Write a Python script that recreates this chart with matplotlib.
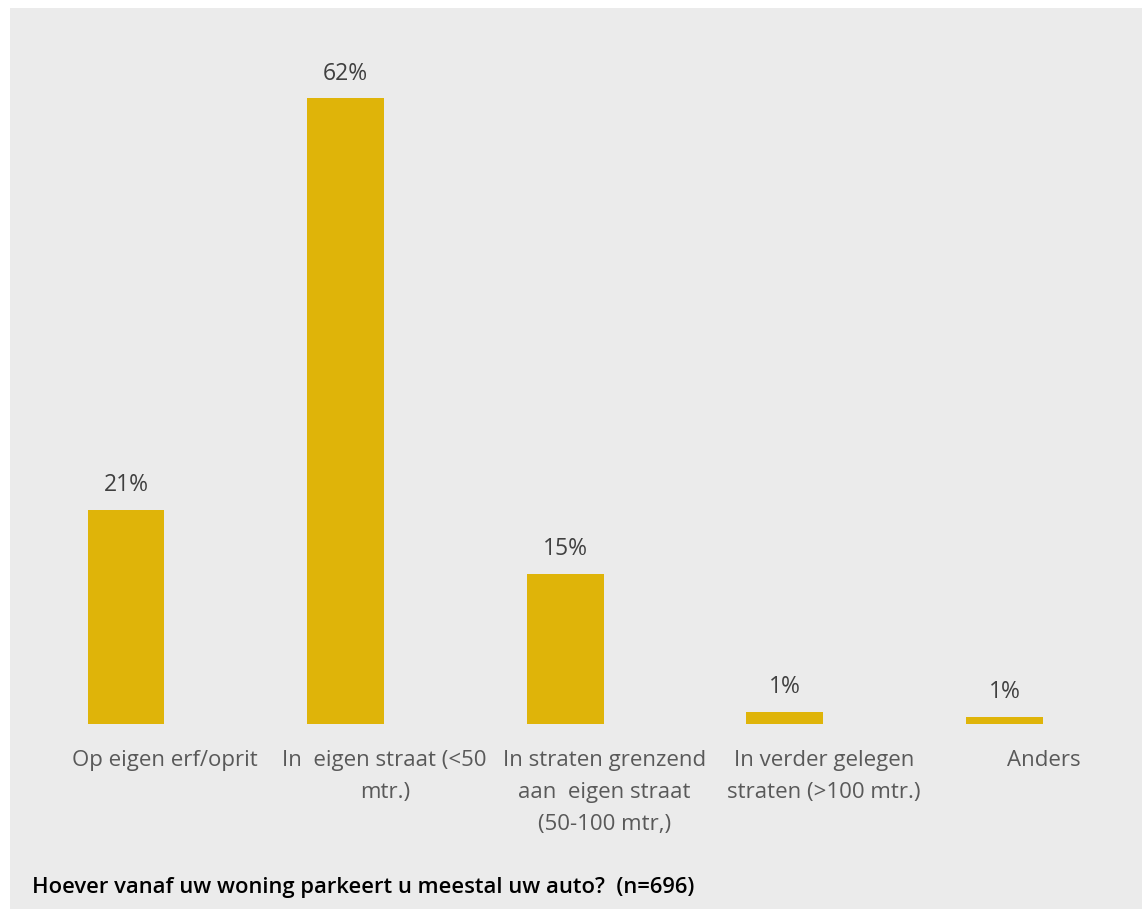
import matplotlib
matplotlib.use("Agg")
import matplotlib.pyplot as plt
from matplotlib.patches import Rectangle

categories = ["Op eigen erf/oprit",
              "In  eigen straat (<50\nmtr.)",
              "In straten grenzend\naan  eigen straat\n(50-100 mtr,)",
              "In verder gelegen\nstraten (>100 mtr.)",
              "Anders"]
values = [21.2, 62.0, 14.9, 1.2, 0.7]
value_labels = ["21%", "62%", "15%", "1%", "1%"]
title = "Hoever vanaf uw woning parkeert u meestal uw auto?  (n=696)"

W, H = 1142, 909
fig = plt.figure(figsize=(W / 100, H / 100), dpi=100)
fig.patch.set_facecolor("white")
fig.add_artist(Rectangle((10 / W, 0), 1 - 10 / W, 1 - 8 / H, transform=fig.transFigure,
                         facecolor="#ebebeb", edgecolor="none", zorder=0))

font = ["Open Sans", "DejaVu Sans"]
# axes: baseline at y=724 px, top at y=30
ax_bottom = (H - 724) / H
ax_top = (H - 30) / H
ax = fig.add_axes([16.25 / W, ax_bottom, (1114.25 - 16.25) / W, ax_top - ax_bottom])
ax.set_facecolor("none")
x = list(range(len(categories)))
ax.bar(x, values, width=0.35, color="#dfb409", zorder=2)
ax.set_xlim(-0.5, 4.5)
ax.set_ylim(0, 62 * (724 - 30) / (724 - 98))
for xi, v, lab in zip(x, values, value_labels):
    ax.annotate(lab, (xi, v), xytext=(0, 9), textcoords="offset points", ha="center",
                va="bottom", fontsize=16.5, color="#404040", family=font)
for s in ax.spines.values():
    s.set_visible(False)
ax.set_yticks([])
ax.set_xticks([xi + 0.178 for xi in x])
ax.set_xticklabels(categories, fontsize=16, color="#595959", family=font,
                   linespacing=1.68, va="top")
ax.tick_params(axis="x", length=0, pad=19)

fig.text(32 / W, 1 - 888 / H, title, fontsize=15.8, color="black", family=font,
         weight="semibold", ha="left", va="center")

fig.savefig("out.png", dpi=100, facecolor=fig.get_facecolor())
